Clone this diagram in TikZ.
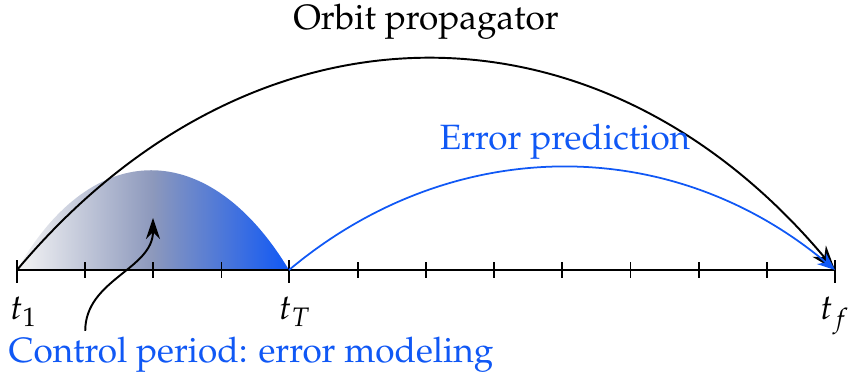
\documentclass[tikz,border=0pt]{standalone}
\usepackage[T1]{fontenc}
\usepackage{mathpazo}
\usepackage{xcolor}
\usepackage{tikz}
\usetikzlibrary{arrows.meta,positioning}

\definecolor{errblue}{RGB}{16,88,245}
\definecolor{midblue}{RGB}{140,152,188}

\begin{document}
\begin{tikzpicture}[
    axis/.style={line width=0.5pt},
    smalltick/.style={line width=0.5pt},
    bigtick/.style={line width=0.5pt},
    tlabel/.style={inner sep=1pt},
    prop/.style={-{Stealth[length=7pt,width=5pt]}, line width=0.55pt},
    pred/.style={-{Stealth[length=5pt,width=4pt]}, errblue, line width=0.5pt},
    note/.style={-{Stealth[length=6pt,width=4pt]}, line width=0.55pt}
]
\useasboundingbox (0,0) rectangle (8.48,3.73);

\coordinate (t1) at (0.17,1.03);
\coordinate (tT) at (2.89,1.03);
\coordinate (tf) at (8.35,1.03);

% control period hump
\shade[left color=black!4, right color=errblue, middle color=midblue]
  (t1) .. controls +(0.75,1.33) and +(-0.8,1.33) .. (tT) -- cycle;

% time axis
\draw[axis] (t1) -- (tf);
\foreach \i in {1,2,3,5,6,7,8,9,10,11}
  \draw[smalltick] (0.17+\i*0.6817,0.95) -- (0.17+\i*0.6817,1.11);
\foreach \p in {t1,tT,tf}
  \draw[bigtick] ([yshift=-0.13cm]\p) -- ([yshift=0.1cm]\p);

\node[tlabel, below=0.23 of t1, xshift=0.07cm] (lt1) {$t_1$};
\node[tlabel, below=0.23 of tT, xshift=0.06cm] (ltT) {$t_T$};
\node[tlabel, below=0.23 of tf] (ltf) {$t_f$};

% propagation and prediction
\draw[prop] (t1) to[out=50,in=130,looseness=1.15] (tf);
\draw[pred] (tT) to[out=40,in=140] (tf);

\node (orbit) at (4.26,3.51) {Orbit propagator};
\node[text=errblue] (errpred) at (5.65,2.31) {Error prediction};
\node[text=errblue] (ctrl) at (2.51,0.18) {Control period: error modeling};

\coordinate (hump) at (1.53,1.55);
\draw[note] ([xshift=0.89cm,yshift=-0.06cm]ctrl.north west) to[out=90,in=-90] (hump);
\end{tikzpicture}
\end{document}
